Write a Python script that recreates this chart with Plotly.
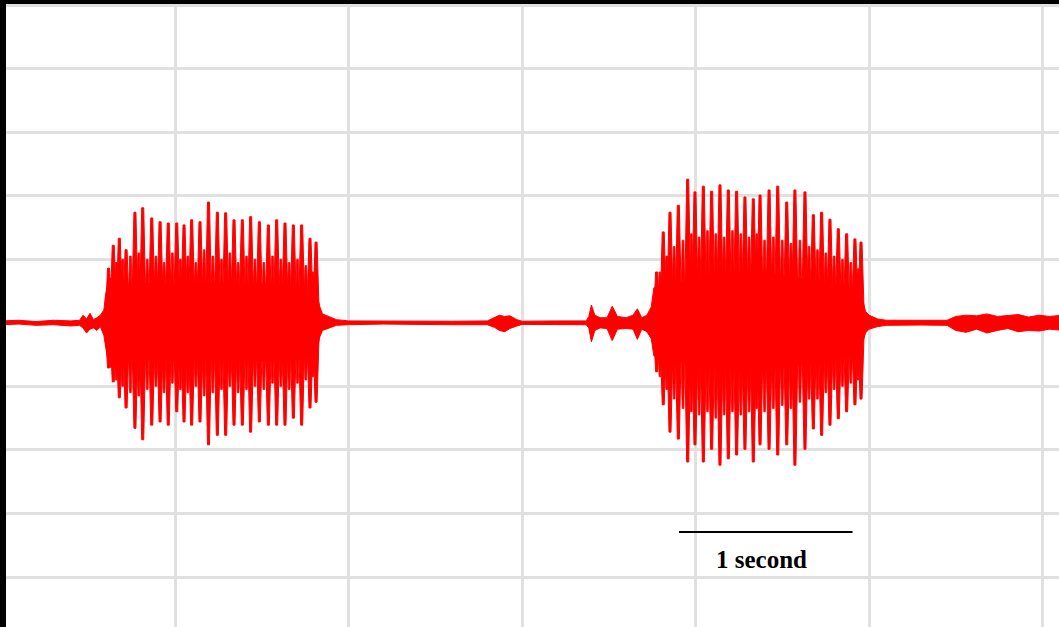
import plotly.graph_objects as go

# Continuous part of the recording: upper / lower envelope (time in s, amplitude in grid units)
env_t = [0.00, 0.10, 0.20, 0.30, 0.40, 0.45, 0.47, 0.49, 0.51, 0.53, 0.55, 0.57, 0.59, 0.60,
         0.61, 0.70, 0.80, 0.95, 1.10, 1.25, 1.40, 1.55, 1.70, 1.79, 1.82, 1.835, 1.85, 1.89,
         1.93, 2.00, 2.20, 2.40, 2.60, 2.80, 2.84, 2.87, 2.90, 2.93, 2.97, 3.00, 3.20, 3.37,
         3.385, 3.40, 3.42, 3.45, 3.49, 3.52, 3.55, 3.60, 3.64, 3.665, 3.69, 3.72, 3.745, 3.76,
         3.80, 3.90, 4.00, 4.10, 4.25, 4.40, 4.55, 4.70, 4.85, 4.94, 4.965, 4.98, 5.00, 5.05,
         5.10, 5.30, 5.45, 5.50, 5.56, 5.62, 5.68, 5.74, 5.80, 5.86, 5.92, 5.98, 6.04, 6.12]
env_top = [0.03, 0.04, 0.02, 0.04, 0.03, 0.04, 0.12, 0.06, 0.15, 0.05, 0.08, 0.12, 0.20, 0.45,
           0.58, 0.60, 0.62, 0.60, 0.64, 0.62, 0.60, 0.62, 0.58, 0.55, 0.42, 0.25, 0.14, 0.10,
           0.05, 0.03, 0.025, 0.03, 0.025, 0.03, 0.08, 0.12, 0.10, 0.11, 0.05, 0.025, 0.03, 0.03,
           0.10, 0.28, 0.12, 0.08, 0.08, 0.26, 0.10, 0.08, 0.12, 0.22, 0.08, 0.12, 0.25, 0.55,
           0.58, 0.64, 0.72, 0.78, 0.80, 0.78, 0.72, 0.66, 0.58, 0.52, 0.35, 0.18, 0.12, 0.06,
           0.04, 0.04, 0.04, 0.10, 0.12, 0.11, 0.14, 0.10, 0.12, 0.13, 0.09, 0.12, 0.10, 0.12]
env_bot = [-0.03, -0.02, -0.04, -0.03, -0.05, -0.04, -0.08, -0.16, -0.10, -0.08, -0.12, -0.06, -0.20, -0.40,
           -0.54, -0.56, -0.58, -0.60, -0.58, -0.60, -0.58, -0.60, -0.56, -0.52, -0.40, -0.22, -0.12, -0.08,
           -0.04, -0.03, -0.02, -0.025, -0.03, -0.03, -0.07, -0.12, -0.14, -0.09, -0.05, -0.025, -0.025, -0.03,
           -0.08, -0.30, -0.12, -0.08, -0.09, -0.28, -0.10, -0.09, -0.10, -0.26, -0.10, -0.14, -0.25, -0.52,
           -0.55, -0.62, -0.68, -0.74, -0.74, -0.72, -0.68, -0.64, -0.56, -0.48, -0.30, -0.16, -0.10, -0.06,
           -0.04, -0.035, -0.04, -0.12, -0.15, -0.10, -0.16, -0.12, -0.09, -0.14, -0.12, -0.13, -0.10, -0.12]

# Main pitch pulses (peak maxima / minima)
peak_t = [0.617, 0.644, 0.679, 0.718, 0.769, 0.814, 0.866, 0.914, 0.961, 1.010, 1.052, 1.096, 1.144,
          1.193, 1.244, 1.292, 1.340, 1.388, 1.436, 1.486, 1.538, 1.586, 1.634, 1.682, 1.730, 1.778, 1.813,
          3.776, 3.814, 3.853, 3.901, 3.955, 3.997, 4.045, 4.093, 4.141, 4.189, 4.237, 4.285, 4.333,
          4.372, 4.424, 4.474, 4.526, 4.573, 4.631, 4.679, 4.727, 4.775, 4.823, 4.871, 4.919, 4.954]
peak_top = [0.86, 1.22, 1.33, 1.15, 1.74, 1.81, 1.65, 1.59, 1.57, 1.57, 1.54, 1.62, 1.59,
            1.90, 1.74, 1.73, 1.62, 1.62, 1.67, 1.59, 1.54, 1.62, 1.57, 1.54, 1.54, 1.33, 1.27,
            0.80, 1.43, 1.74, 1.85, 2.26, 2.06, 2.15, 2.07, 2.17, 2.09, 2.07, 1.98, 1.95,
            2.01, 2.09, 2.15, 1.90, 2.09, 2.06, 1.70, 1.74, 1.63, 1.48, 1.40, 1.32, 1.27]
peak_bot = [-0.71, -0.93, -1.18, -1.34, -1.66, -1.84, -1.61, -1.56, -1.61, -1.40, -1.56, -1.61, -1.56,
            -1.92, -1.77, -1.77, -1.61, -1.61, -1.72, -1.56, -1.61, -1.61, -1.61, -1.50, -1.61, -1.34, -1.25,
            -0.77, -1.29, -1.72, -1.83, -2.19, -1.92, -2.19, -1.99, -2.24, -2.14, -2.08, -1.99, -2.19,
            -1.92, -1.99, -2.08, -1.92, -2.24, -1.99, -1.67, -1.77, -1.61, -1.51, -1.40, -1.29, -1.20]

# Weaker pulses between the main ones
sub_t = [0.630, 0.661, 0.698, 0.743, 0.791, 0.840, 0.890, 0.937, 0.985, 1.031, 1.074, 1.120, 1.168,
         1.218, 1.268, 1.316, 1.364, 1.412, 1.461, 1.512, 1.562, 1.610, 1.658, 1.706, 1.754, 1.795,
         3.795, 3.834, 3.877, 3.928, 3.976, 4.021, 4.069, 4.117, 4.165, 4.213, 4.261, 4.309, 4.353,
         4.398, 4.449, 4.500, 4.550, 4.602, 4.655, 4.703, 4.751, 4.799, 4.847, 4.895, 4.937]
sub_top = [0.70, 0.95, 1.00, 1.05, 1.10, 1.00, 1.05, 0.95, 1.10, 1.00, 1.05, 0.95, 1.15,
           1.05, 1.00, 1.10, 0.95, 1.05, 1.00, 0.95, 1.05, 1.00, 0.95, 1.00, 0.90, 0.80,
           0.80, 1.05, 1.20, 1.30, 1.40, 1.35, 1.45, 1.40, 1.35, 1.45, 1.40, 1.35, 1.40,
           1.30, 1.35, 1.30, 1.25, 1.30, 1.20, 1.15, 1.10, 1.05, 1.00, 0.95, 0.85]
sub_bot = [-0.70, -0.90, -1.00, -1.10, -1.15, -1.05, -1.00, -1.10, -0.95, -1.05, -1.10, -1.00, -1.15,
           -1.10, -1.05, -1.00, -1.10, -1.05, -1.00, -1.05, -0.95, -1.00, -1.05, -0.95, -0.90, -0.85,
           -0.85, -1.05, -1.20, -1.35, -1.40, -1.45, -1.40, -1.50, -1.45, -1.40, -1.45, -1.40, -1.35,
           -1.40, -1.35, -1.30, -1.35, -1.25, -1.20, -1.20, -1.10, -1.05, -1.00, -0.95, -0.90]

# Scale bar (1 s) and its label
bar_start = 3.905
bar_len = 1.0
bar_y = -3.29
bar_label = "1 second"

RED = "#ff0000"
PX = 1.0 / 173.5  # seconds per screen pixel at this zoom


def pulses(ts, tops, bots, base_half, tip_half):
    """Tapered pulse outlines: wide at the baseline, narrow at the extremes."""
    xs, ys = [], []
    for t, a, b in zip(ts, tops, bots):
        xs += [t - base_half, t - tip_half, t + tip_half, t + base_half,
               t + tip_half, t - tip_half, t - base_half, None]
        ys += [0, a, a, 0, b, b, 0, None]
    return xs, ys


fig = go.Figure()

fig.add_trace(go.Scatter(
    x=env_t + env_t[::-1], y=env_top + env_bot[::-1],
    mode="lines", fill="toself", fillcolor=RED,
    line=dict(color=RED, width=1), hoverinfo="skip"))

sx, sy = pulses(sub_t, sub_top, sub_bot, 2.6 * PX, 0.8 * PX)
fig.add_trace(go.Scatter(x=sx, y=sy, mode="lines", fill="toself", fillcolor=RED,
                         line=dict(color=RED, width=0.8), hoverinfo="skip"))

kx, ky = pulses(peak_t, peak_top, peak_bot, 3.4 * PX, 1.0 * PX)
fig.add_trace(go.Scatter(x=kx, y=ky, mode="lines", fill="toself", fillcolor=RED,
                         line=dict(color=RED, width=1), hoverinfo="skip"))

fig.add_shape(type="line", xref="x", yref="y",
              x0=bar_start, x1=bar_start + bar_len, y0=bar_y, y1=bar_y,
              line=dict(color="black", width=2))
fig.add_annotation(x=4.38, y=-3.73, xref="x", yref="y", text="<b>%s</b>" % bar_label,
                   showarrow=False,
                   font=dict(family="Liberation Serif", size=25, color="black"))

axis_common = dict(showgrid=True, gridcolor="#e0e0e0", gridwidth=2.5,
                   showticklabels=False, ticks="", zeroline=False, showline=False,
                   fixedrange=True)
fig.update_layout(
    width=1059, height=627,
    margin=dict(l=6, r=0, t=4, b=0, pad=0),
    paper_bgcolor="black", plot_bgcolor="white",
    showlegend=False,
    xaxis=dict(range=[0.0259, 6.0951], tick0=0, dtick=1, **axis_common),
    yaxis=dict(range=[-4.786, 5.016], tick0=0, dtick=1, **axis_common),
)

fig.write_html("out.html", config={"displayModeBar": False})
